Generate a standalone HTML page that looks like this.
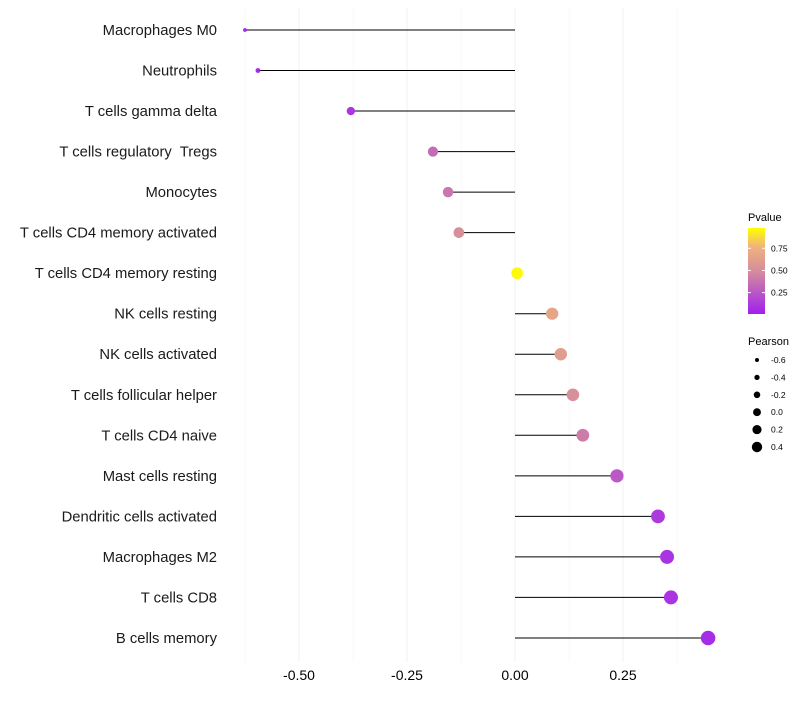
<!DOCTYPE html>
<html><head><meta charset="utf-8"><style>
body{margin:0;background:#fff}
svg{font-family:"Liberation Sans",sans-serif}
text{white-space:pre}
</style></head><body>
<svg id="chart" width="800" height="700" xmlns="http://www.w3.org/2000/svg">
<defs><linearGradient id="pg" x1="0" y1="1" x2="0" y2="0">
<stop offset="0" stop-color="#a020f0"/><stop offset="0.5" stop-color="#d58d9c"/><stop offset="0.78" stop-color="#f0b27c"/><stop offset="1" stop-color="#ffff00"/>
</linearGradient></defs>
<g id="grid"></g>
<g id="marks"></g>
<g id="ylab"></g>
<g id="xlab"></g>
<g>
<text x="748" y="221" font-size="11">Pvalue</text>
<rect x="748" y="228" width="17" height="86" fill="url(#pg)"/>
<g id="cbt"></g>
</g>
<g id="sizeleg">
<text x="748" y="345" font-size="11">Pearson</text>
</g>
</svg>
<script>
const categories=["Macrophages M0","Neutrophils","T cells gamma delta","T cells regulatory  Tregs","Monocytes","T cells CD4 memory activated","T cells CD4 memory resting","NK cells resting","NK cells activated","T cells follicular helper","T cells CD4 naive","Mast cells resting","Dendritic cells activated","Macrophages M2","T cells CD8","B cells memory"];
const pearson=[-0.625,-0.595,-0.38,-0.19,-0.155,-0.13,0.005,0.086,0.106,0.134,0.157,0.236,0.331,0.352,0.361,0.447];
const pvalues=[0.03,0.04,0.1,0.35,0.4,0.52,0.98,0.68,0.62,0.52,0.42,0.25,0.12,0.09,0.09,0.06];
const xTicks=[-0.5,-0.25,0,0.25];
const xTickLabels=["-0.50","-0.25","0.00","0.25"];
const xMinor=[-0.625,-0.375,-0.125,0.125,0.375];
const cbTicks=[0.25,0.5,0.75];
const cbTickLabels=["0.25","0.50","0.75"];
const sizeLegend=[-0.6,-0.4,-0.2,0.0,0.2,0.4];
const sizeLegendLabels=["-0.6","-0.4","-0.2","0.0","0.2","0.4"];

const NS="http://www.w3.org/2000/svg";
const X=v=>515+v*432;
const Y=i=>30+i*40.53;
const R=v=>1.2+5.8*Math.sqrt(Math.max(0,v+0.64));
const RL=v=>2+3.2*(v+0.6);
const cy=p=>313-(p-0.02)/0.97*86;
function lerp(a,b,t){return a.map((x,i)=>Math.round(x+(b[i]-x)*t));}
function col(p){const s=[[0,[160,32,240]],[0.5,[213,141,156]],[0.78,[240,178,124]],[1,[255,255,0]]];
 for(let k=1;k<s.length;k++){if(p<=s[k][0]){const t=(p-s[k-1][0])/(s[k][0]-s[k-1][0]);return `rgb(${lerp(s[k-1][1],s[k][1],t).join(',')})`;}}
 return 'rgb(255,255,0)';}
function mk(tag,at,par){const e=document.createElementNS(NS,tag);for(const k in at)e.setAttribute(k,at[k]);document.getElementById(par).appendChild(e);return e;}
xMinor.forEach(v=>{const e=mk('line',{x1:X(v),x2:X(v),y1:8,y2:662,stroke:'#f7f7f7','stroke-width':0.6},'grid');

});
xTicks.forEach((v,i)=>{const e=mk('line',{x1:X(v),x2:X(v),y1:8,y2:662,stroke:'#f2f2f2','stroke-width':1},'grid');


const t=mk('text',{x:X(v),y:680,'font-size':14,'text-anchor':'middle',fill:'#000'},'xlab');t.textContent=xTickLabels[i];

});
categories.forEach((c,i)=>{
 const t=mk('text',{x:217,y:Y(i)+5,'font-size':14.8,'text-anchor':'end',fill:'#1a1a1a'},'ylab');t.textContent=c;
 
 
 const l=mk('line',{x1:X(0),x2:X(pearson[i]),y1:Y(i),y2:Y(i),stroke:'#000','stroke-width':1},'marks');
 
 
 const d=mk('circle',{cx:X(pearson[i]),cy:Y(i),r:R(pearson[i]),fill:col(pvalues[i])},'marks');
 
 
});
cbTicks.forEach((p,i)=>{
 mk('line',{x1:748,x2:751,y1:cy(p),y2:cy(p),stroke:'#fff'},'cbt');
 mk('line',{x1:762,x2:765,y1:cy(p),y2:cy(p),stroke:'#fff'},'cbt');
 const t=mk('text',{x:771,y:cy(p)+3,'font-size':8.5},'cbt');t.textContent=cbTickLabels[i];
 
 
});
sizeLegend.forEach((v,i)=>{
 const y=360+i*17.4;
 const d=mk('circle',{cx:757,cy:y,r:RL(v),fill:'#000'},'sizeleg');
 
 
 const t=mk('text',{x:771,y:y+3,'font-size':8.5},'sizeleg');t.textContent=sizeLegendLabels[i];
 
 
});
</script>
</body></html>
